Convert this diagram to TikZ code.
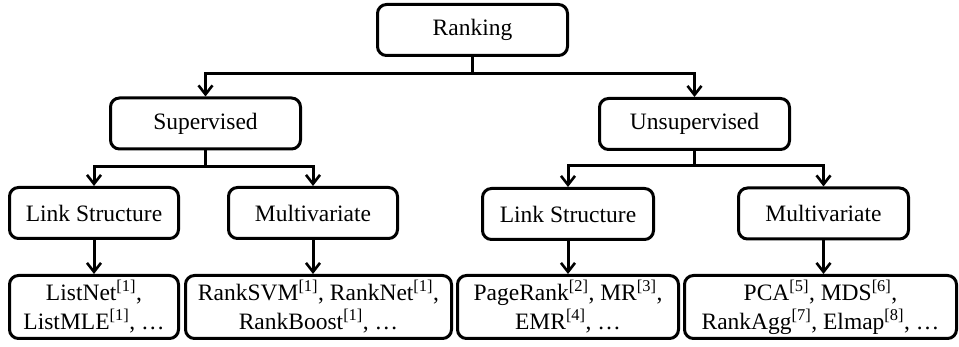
\documentclass[tikz,border=0pt]{standalone}
\usepackage{fontspec}
\setmainfont{Liberation Serif}
\newfontfamily\treefont{Liberation Serif}
\usepackage{tikz}
\usetikzlibrary{arrows.meta, positioning, calc}

\begin{document}
\begin{tikzpicture}[
    x=1pt, y=1pt,
    font=\treefont\fontsize{23.5}{29}\selectfont,
    line width=3pt,
    every node/.style={inner sep=2pt},
    cat/.style={draw, rounded corners=9pt, minimum height=51pt, align=center},
    leaf/.style={draw, rounded corners=9pt, minimum height=63pt, align=center},
    arrow/.style={-{Straight Barb[length=9pt, width=14pt, line width=2.6pt]}}
]
\useasboundingbox (0,0) rectangle (959,-347);

% ================= Root and the two families =================
\node[cat, minimum width=190pt] (rank) at (472.5,-30) {Ranking};
\node[cat, minimum width=190pt] (sup) at (205.5,-123.5) {Supervised};
\node[cat, minimum width=190pt] (unsup) at (694.5,-124) {Unsupervised};

% ================= Sub-categories =================
\node[cat, minimum width=169pt] (ls1) at (94,-213) {Link Structure};
\node[cat, minimum width=169pt] (mv1) at (313,-213) {Multivariate};
\node[cat, minimum width=171pt] (ls2) at (568,-214) {Link Structure};
\node[cat, minimum width=170pt] (mv2) at (823.5,-213.5) {Multivariate};

% ================= Methods =================
\node[leaf, minimum width=169pt] (m1) at (94,-307) {ListNet\textsuperscript{[1]},\\ListMLE\textsuperscript{[1]}, …};
\node[leaf, minimum width=266pt] (m2) at (318.5,-307) {RankSVM\textsuperscript{[1]}, RankNet\textsuperscript{[1]},\\RankBoost\textsuperscript{[1]}, …};
\node[leaf, minimum width=221pt] (m3) at (568,-307) {PageRank\textsuperscript{[2]}, MR\textsuperscript{[3]},\\EMR\textsuperscript{[4]}, …};
\node[leaf, minimum width=272pt] (m4) at (820.5,-307) {PCA\textsuperscript{[5]}, MDS\textsuperscript{[6]},\\RankAgg\textsuperscript{[7]}, Elmap\textsuperscript{[8]}, …};

% Arrows (tree)
\coordinate (rankfork) at ($(rank.south)+(0,-17)$);
\draw[arrow] (rank.south) -- (rankfork) -| (sup.north);
\draw[arrow] (rankfork) -| (unsup.north);

\coordinate (supfork) at ($(sup.south)+(0,-16)$);
\draw[arrow] (sup.south) -- (supfork) -| (ls1.north);
\draw[arrow] (supfork) -| (mv1.north);

\coordinate (unsupfork) at ($(unsup.south)+(0,-15)$);
\draw[arrow] (unsup.south) -- (unsupfork) -| (ls2.north);
\draw[arrow] (unsupfork) -| (mv2.north);

\draw[arrow] (ls1.south) -- (ls1.south |- m1.north);
\draw[arrow] (mv1.south) -- (mv1.south |- m2.north);
\draw[arrow] (ls2.south) -- (ls2.south |- m3.north);
\draw[arrow] (mv2.south) -- (mv2.south |- m4.north);

\end{tikzpicture}
\end{document}
